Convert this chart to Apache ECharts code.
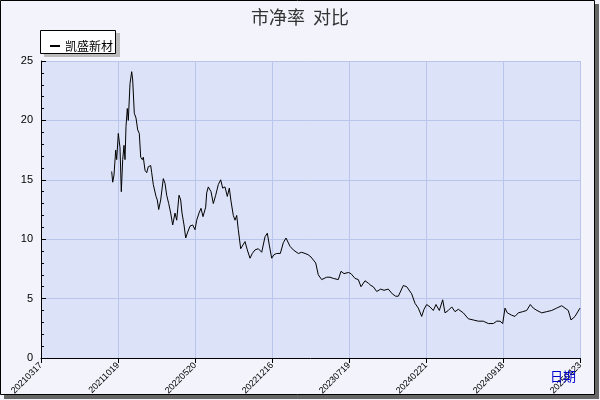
<!DOCTYPE html><html><head><meta charset="utf-8"><script src="https://cdn.jsdelivr.net/npm/echarts@6/dist/echarts.min.js"></script>
<style>html,body{margin:0;padding:0;background:#fff}#c{width:600px;height:400px}</style></head><body><div id="c"></div><script>
const tickLabels=['20210317','20211019','20220520','20221216','20230719','20240221','20240918','20250423'];
const seriesName='凯盛新材';
// x: position along the time axis (77 units per label interval); y: 市净率
const xs=[70.7,71.7,73,74.7,75.7,77.3,79,80.3,81.7,83,84,85,86.3,87.3,89,90.7,91.7,93.3,95,96.7,98.3,99.7,101.3,102.3,104,105.7,107.3,109.7,110.7,112.3,115,116.3,117.7,119.7,122.3,124,125.7,127.7,129.7,131.7,134,135.7,138,139.7,141,143,144.7,146.7,149,151.7,154,155.7,158,160,162,164.7,165.7,167.3,170,172.3,174.7,177.3,179.7,181.7,184,186.3,188.3,190,192.3,194,195.7,197.3,199.7,201.7,204,206.3,209,211.3,214,217.3,220.7,224,226.3,228.3,230.7,233,235.7,239.3,242.3,245,249,252.3,257.3,260.7,264,267,270,274.7,277.3,280.7,285.7,289,292.3,297.3,300,303,307.3,310,314,317.3,320,324,327.3,330,332.3,335.7,339.7,343,347.3,351.3,354.7,357.3,362.3,365.7,370.7,374,377.3,380.7,383,385.7,389,392.3,395,398.3,401.7,404,407.3,410.7,414,417.3,422.3,427.3,432.3,437.3,442.3,447.3,452.3,455.7,459,461.7,464,466.3,470.7,474,477.3,481.7,485.7,489.3,492.3,496,500.7,505.7,510.7,515.7,520.7,524,527.3,530,534,539];
const ys=[15.7,14.8,15.4,17.5,16.7,18.9,17.7,14.0,16.7,17.9,16.7,19.5,21.0,20.0,23.1,24.1,23.4,20.6,20.2,19.2,18.9,16.9,16.7,16.9,15.8,15.6,16.1,16.2,15.6,14.6,13.6,13.3,12.5,13.3,15.1,14.7,13.7,13.0,12.2,11.2,12.2,11.6,13.7,13.3,12.2,11.2,10.1,10.6,11.1,11.2,10.8,11.6,12.2,12.6,11.9,12.7,13.9,14.4,14.0,13.0,13.7,14.6,15.0,14.3,14.4,13.6,14.3,13.2,12.0,11.6,12.0,10.8,9.2,9.1,9.8,9.1,8.4,8.8,9.1,9.2,8.9,10.2,10.5,9.5,8.4,8.7,8.8,8.8,9.7,10.1,9.4,9.1,8.8,8.9,8.8,8.7,8.5,8.0,7.0,6.6,6.8,6.8,6.7,6.6,7.3,7.1,7.2,7.1,6.7,6.6,6.0,6.5,6.3,6.1,6.0,5.6,5.8,5.7,5.8,5.4,5.2,5.2,6.1,6.0,5.4,4.6,4.2,3.5,4.1,4.5,4.3,4.0,4.5,4.0,4.9,3.8,4.0,4.3,3.9,4.1,3.8,3.3,3.2,3.1,3.1,2.9,2.9,3.1,3.1,2.9,4.2,3.8,3.6,3.5,3.8,3.9,4.0,4.5,4.2,4.0,3.8,3.9,4.0,4.2,4.4,4.2,4.0,3.2,3.5,4.2];
const data=xs.map((x,i)=>[x,ys[i]]);
const ch=echarts.init(document.getElementById('c'));
ch.setOption({
 animation:false,
 backgroundColor:'#F2F3FB',
 graphic:[
  {type:'rect',shape:{x:4,y:4,width:595,height:395},style:{fill:'#666'},z:-10},
  {type:'rect',shape:{x:0.5,y:0.5,width:594,height:394},style:{fill:'#F2F3FB',stroke:'#000',lineWidth:1},z:-9},
  {type:'rect',shape:{x:44,y:33,width:76,height:24},style:{fill:'#bbb'},z:5},
  {type:'rect',shape:{x:40.5,y:30.5,width:75,height:23},style:{fill:'#fff',stroke:'#000',lineWidth:1},z:6},
  {type:'text',left:550,top:370,style:{text:'日期',fill:'#0000cc',font:'13px "Noto Sans CJK SC"'},z:10}
 ],
 title:{text:'市净率  对比',left:'center',top:3,textStyle:{fontSize:18,fontWeight:'normal',color:'#333',fontFamily:'Noto Sans CJK SC'}},
 legend:{left:45,top:35,itemWidth:10,itemHeight:2,itemGap:5,icon:'rect',z:10,textStyle:{fontSize:12,color:'#000',fontFamily:'Noto Sans CJK SC'},data:[seriesName]},
 grid:{left:41,right:20,top:61,bottom:42,show:true,backgroundColor:'#DCE2F7',borderWidth:0},
 xAxis:{type:'value',min:0,max:539,interval:77,
  axisLine:{lineStyle:{color:'#000'}},axisTick:{inside:false,length:5,lineStyle:{color:'#000'}},
  splitLine:{lineStyle:{color:'#B9C5EA'}},
  axisLabel:{rotate:45,fontSize:9,color:'#000',margin:6,formatter:v=>tickLabels[Math.round(v/77)]||''}},
 yAxis:{type:'value',min:0,max:25,interval:5,
  axisLine:{show:true,lineStyle:{color:'#000'}},axisTick:{inside:true,length:5,lineStyle:{color:'#000'}},
  minorTick:{show:true,splitNumber:5,length:3,lineStyle:{color:'#000'}},
  splitLine:{lineStyle:{color:'#B9C5EA'}},
  axisLabel:{fontSize:11,color:'#000',margin:8}},
 series:[{name:seriesName,type:'line',data:data,showSymbol:false,lineStyle:{color:'#000',width:1},itemStyle:{color:'#000'}}]
});
</script></body></html>
